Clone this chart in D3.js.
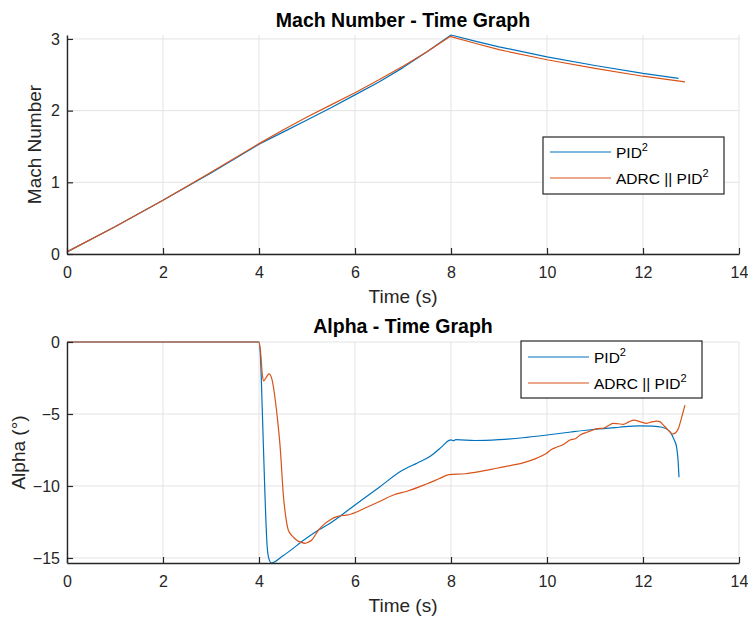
<!DOCTYPE html>
<html>
<head>
<meta charset="utf-8">
<script src="https://cdn.jsdelivr.net/npm/d3@7"></script>
<style>
  html, body { margin: 0; padding: 0; background: #fff; }
  svg { display: block; font-family: "Liberation Sans", Arial, Helvetica, sans-serif; }
</style>
</head>
<body>
<svg id="chart" width="748" height="621"></svg>
<script>
// ---- Data ----------------------------------------------------------------
const seriesNames = ["PID", "ADRC || PID"];
const seriesColors = ["#0072BD", "#D95319"];

const xTicks = [0, 2, 4, 6, 8, 10, 12, 14];
const machTicks = [0, 1, 2, 3];
const alphaTicks = [0, -5, -10, -15];

// Mach number vs time [t (s), Mach]
const machPID = [
  [0, 0.03], [1, 0.38], [2, 0.75], [3, 1.13], [4, 1.53], [4.5, 1.7], [5, 1.87],
  [5.5, 2.04], [6, 2.22], [6.5, 2.4], [7, 2.6], [7.5, 2.82], [8, 3.055],
  [8.5, 2.97], [9, 2.89], [10, 2.75], [11, 2.63], [12, 2.52], [12.74, 2.45]
];
const machADRC = [
  [0, 0.03], [1, 0.38], [2, 0.75], [3, 1.14], [4, 1.54], [4.5, 1.73], [5, 1.91],
  [5.5, 2.08], [6, 2.25], [6.5, 2.43], [7, 2.62], [7.5, 2.82], [7.98, 3.035],
  [8.5, 2.94], [9, 2.85], [10, 2.71], [11, 2.59], [12, 2.48], [12.875, 2.40]
];

// Angle of attack vs time [t (s), alpha (deg)]
const alphaPID = [
  [0, 0], [4.0, 0], [4.03, -1.0], [4.07, -4.9], [4.125, -10.7], [4.17, -14.2],
  [4.21, -15.1], [4.26, -15.35], [4.5, -14.85], [5.0, -13.6], [5.24, -13.06],
  [5.48, -12.59], [6.0, -11.32], [6.5, -10.1], [6.97, -8.95], [7.3, -8.4],
  [7.56, -7.96], [7.8, -7.3], [7.95, -6.85], [8.0, -6.8], [8.05, -6.86],
  [8.1, -6.78], [8.5, -6.84], [9.0, -6.78], [9.5, -6.65], [10.0, -6.46],
  [10.5, -6.25], [11.0, -6.06], [11.5, -5.92], [11.9, -5.82], [12.2, -5.84],
  [12.4, -5.92], [12.56, -6.23], [12.65, -6.8], [12.7, -7.3], [12.73, -8.2],
  [12.75, -9.4]
];
const alphaADRC = [
  [0, 0], [4.0, 0], [4.03, -0.6], [4.07, -2.3], [4.1, -2.7], [4.15, -2.45],
  [4.21, -2.22], [4.27, -2.6], [4.33, -3.8], [4.39, -5.5], [4.44, -7.27],
  [4.51, -10.74], [4.56, -12.2], [4.61, -13.06], [4.7, -13.5], [4.78, -13.75],
  [4.88, -13.92], [4.96, -13.98], [5.03, -13.9], [5.1, -13.75], [5.24, -13.06],
  [5.36, -12.65], [5.48, -12.36], [5.62, -12.13], [5.75, -12.05], [5.83, -12.03],
  [5.96, -11.9], [6.2, -11.55], [6.5, -11.1], [6.8, -10.63], [7.1, -10.35],
  [7.49, -9.86], [7.75, -9.5], [7.96, -9.21], [8.3, -9.15], [8.6, -9.0],
  [8.95, -8.77], [9.3, -8.54], [9.5, -8.4], [9.65, -8.24], [9.8, -8.05],
  [9.99, -7.73], [10.1, -7.45], [10.2, -7.31], [10.35, -7.1], [10.48, -6.81],
  [10.6, -6.7], [10.69, -6.46], [10.85, -6.25], [10.96, -6.11], [11.05, -6.02],
  [11.17, -5.99], [11.28, -5.8], [11.38, -5.65], [11.48, -5.68], [11.59, -5.72],
  [11.7, -5.55], [11.81, -5.42], [11.95, -5.55], [12.08, -5.65], [12.18, -5.55],
  [12.29, -5.49], [12.36, -5.55], [12.42, -5.76], [12.52, -6.1], [12.62, -6.39],
  [12.68, -6.3], [12.74, -5.99], [12.8, -5.3], [12.875, -4.38]
];

// ---- Drawing -------------------------------------------------------------
const svg = d3.select("#chart");
svg.append("rect").attr("width", 748).attr("height", 621).attr("fill", "#fff");

const axisColor = "#262626";
const gridColor = "#e3e3e3";

function drawPanel(opts) {
  const { top, bottom, left, right, yDomain, yTicks, series, curve, title, yLabel,
          yLabelX, titleY, legend } = opts;

  const x = d3.scaleLinear().domain([0, 14]).range([left, right]);
  const y = d3.scaleLinear().domain(yDomain).range([bottom, top]);
  const g = svg.append("g");

  // grid
  g.append("g").selectAll("line").data(xTicks).join("line")
    .attr("x1", d => x(d)).attr("x2", d => x(d))
    .attr("y1", top).attr("y2", bottom)
    .attr("stroke", gridColor).attr("stroke-width", 1);
  g.append("g").selectAll("line").data(yTicks).join("line")
    .attr("x1", left).attr("x2", right)
    .attr("y1", d => y(d)).attr("y2", d => y(d))
    .attr("stroke", gridColor).attr("stroke-width", 1);

  // data lines
  const line = d3.line().x(d => x(d[0])).y(d => y(d[1])).curve(curve);
  series.forEach((s, i) => {
    g.append("path").datum(s)
      .attr("fill", "none")
      .attr("stroke", seriesColors[i])
      .attr("stroke-width", 1.2)
      .attr("stroke-linejoin", "round")
      .attr("d", line);
  });

  // axes (ticks point inward)
  const fmt = d3.format("~g");
  const xAxis = d3.axisBottom(x).tickValues(xTicks).tickFormat(fmt)
    .tickSizeInner(-6).tickSizeOuter(0).tickPadding(12);
  const yAxis = d3.axisLeft(y).tickValues(yTicks).tickFormat(fmt)
    .tickSizeInner(-6).tickSizeOuter(0).tickPadding(8);

  const gx = g.append("g").attr("transform", `translate(0,${bottom})`).call(xAxis);
  const gy = g.append("g").attr("transform", `translate(${left},0)`).call(yAxis);
  [gx, gy].forEach(a => {
    a.select(".domain").attr("stroke", axisColor).attr("stroke-width", 1.4);
    a.selectAll(".tick line").attr("stroke", axisColor).attr("stroke-width", 1.2);
    a.selectAll(".tick text").attr("fill", axisColor)
      .style("font-size", "16px");
  });
  gy.selectAll(".tick text").attr("x", -7);
  gx.selectAll(".tick text").attr("dy", "0.71em").attr("y", 13);

  // title
  svg.append("text")
    .attr("x", (left + right) / 2).attr("y", titleY)
    .attr("text-anchor", "middle")
    .style("font-size", "19.5px").style("font-weight", "bold")
    .attr("fill", "#000")
    .text(title);

  // x label
  svg.append("text")
    .attr("x", (left + right) / 2).attr("y", bottom + 49)
    .attr("text-anchor", "middle")
    .style("font-size", "19px")
    .attr("fill", axisColor)
    .text("Time (s)");

  // y label
  svg.append("text")
    .attr("transform", `translate(${yLabelX},${(top + bottom) / 2}) rotate(-90)`)
    .attr("text-anchor", "middle")
    .style("font-size", "19px")
    .attr("fill", axisColor)
    .text(yLabel);

  // legend
  const lg = svg.append("g").attr("transform", `translate(${legend.x},${legend.y})`);
  lg.append("rect")
    .attr("width", legend.w).attr("height", legend.h)
    .attr("fill", "#fff").attr("stroke", axisColor).attr("stroke-width", 1.2);
  seriesNames.forEach((name, i) => {
    const cy = legend.rowY[i];
    lg.append("line")
      .attr("x1", 7).attr("x2", 68)
      .attr("y1", cy).attr("y2", cy)
      .attr("stroke", seriesColors[i]).attr("stroke-width", 1.2);
    const t = lg.append("text")
      .attr("x", 73).attr("y", cy + 6)
      .style("font-size", "15.5px").attr("fill", "#000");
    t.append("tspan").text(name);
    t.append("tspan").attr("dy", -7).style("font-size", "11px").text("2");
  });
}

drawPanel({
  top: 35, bottom: 254, left: 67, right: 739,
  yDomain: [0, 3.055], yTicks: machTicks,
  series: [machPID, machADRC], curve: d3.curveLinear,
  title: "Mach Number - Time Graph", yLabel: "Mach Number", yLabelX: 41,
  titleY: 27,
  legend: { x: 543, y: 137, w: 181, h: 57, rowY: [15, 41] }
});

drawPanel({
  top: 342, bottom: 563, left: 67, right: 739,
  yDomain: [-15.35, 0], yTicks: alphaTicks,
  series: [alphaPID, alphaADRC], curve: d3.curveMonotoneX,
  title: "Alpha - Time Graph", yLabel: "Alpha (°)", yLabelX: 25,
  titleY: 333,
  legend: { x: 521, y: 341, w: 181, h: 57, rowY: [16, 42] }
});
</script>
</body>
</html>
